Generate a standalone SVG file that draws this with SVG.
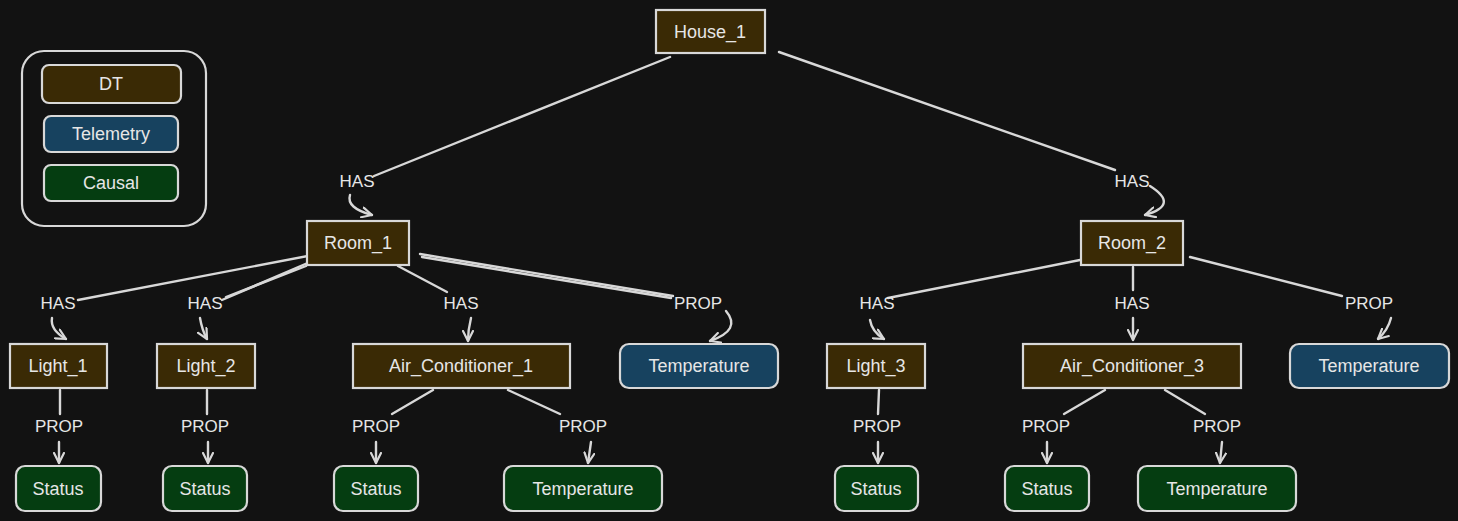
<svg xmlns="http://www.w3.org/2000/svg" width="1458" height="521" viewBox="0 0 1458 521">
<defs>
<marker id="ah" viewBox="0 0 12 12" refX="11" refY="6" markerWidth="12" markerHeight="12" markerUnits="userSpaceOnUse" orient="auto">
<path d="M1,1 L11,6 L1,11" fill="none" stroke="#d8d8d8" stroke-width="2.2" stroke-linecap="round" stroke-linejoin="round"/>
</marker>
<style>
.bg{fill:#121212}
.n{stroke:#d8d8d8;stroke-width:2.2}
.dt{fill:#3a2a05}
.tel{fill:#17425f}
.cau{fill:#053d11}
.t{font-family:"Liberation Sans",Arial,sans-serif;font-size:18px;fill:#e6e6e6;text-anchor:middle;dominant-baseline:central}
.lbl{font-family:"Liberation Sans",Arial,sans-serif;font-size:17px;fill:#e6e6e6;text-anchor:middle;dominant-baseline:central}
.e{fill:none;stroke:#d8d8d8;stroke-width:2.4;stroke-linecap:round}
.a{fill:none;stroke:#d8d8d8;stroke-width:2.4;stroke-linecap:round;marker-end:url(#ah)}
</style>
</defs>
<rect class="bg" x="0" y="0" width="1458" height="521"/>

<g id="legend">
<rect x="22" y="51" width="184" height="175" rx="22" fill="none" class="n"/>
<rect x="42" y="65" width="139" height="38" rx="7" class="n dt"/>
<text class="t" x="111" y="84">DT</text>
<rect x="44" y="116" width="134" height="36" rx="7" class="n tel"/>
<text class="t" x="111" y="134">Telemetry</text>
<rect x="44" y="165" width="134" height="36" rx="7" class="n cau"/>
<text class="t" x="111" y="183">Causal</text>
</g>

<g id="connectors">
<path class="e" d="M670,57 L374,176"/>
<text class="lbl" x="357" y="181">HAS</text>
<path class="a" d="M350,195 Q346,208 372,215"/>
<path class="e" d="M779,52 L1115,170"/>
<text class="lbl" x="1132" y="181">HAS</text>
<path class="a" d="M1150,186 Q1180,205 1145,215"/>
<path class="e" d="M318,254 L78,300"/>
<text class="lbl" x="58" y="303">HAS</text>
<path class="a" d="M52,318 Q50,330 66,339"/>
<path class="e" d="M310,262 L222,300"/>
<path class="e" d="M306,266 L226,297" stroke-width="1.2"/>
<text class="lbl" x="205" y="303">HAS</text>
<path class="a" d="M200,318 Q202,330 207,339"/>
<path class="e" d="M398,266 L447,292"/>
<text class="lbl" x="461" y="303">HAS</text>
<path class="a" d="M471,318 Q468,330 468,341"/>
<path class="e" d="M420,254 L673,296"/>
<path class="e" d="M422,257 L671,298" stroke-width="1.2"/>
<text class="lbl" x="698" y="303">PROP</text>
<path class="a" d="M726,311 Q742,330 710,341"/>
<path class="e" d="M1090,258 L888,298"/>
<text class="lbl" x="877" y="303">HAS</text>
<path class="a" d="M870,320 Q872,332 884,339"/>
<path class="e" d="M1133,267 L1133,290"/>
<text class="lbl" x="1132" y="303">HAS</text>
<path class="a" d="M1133,318 L1133,340"/>
<path class="e" d="M1190,257 L1342,296"/>
<text class="lbl" x="1369" y="303">PROP</text>
<path class="a" d="M1391,318 Q1388,330 1378,339"/>
<path class="e" d="M60,390 L60,414"/>
<text class="lbl" x="59" y="426">PROP</text>
<path class="a" d="M59,442 L59,463"/>
<path class="e" d="M207,390 L207,414"/>
<text class="lbl" x="205" y="426">PROP</text>
<path class="a" d="M208,442 L208,463"/>
<path class="e" d="M433,390 L392,414"/>
<text class="lbl" x="376" y="426">PROP</text>
<path class="a" d="M376,442 L376,463"/>
<path class="e" d="M508,390 L560,414"/>
<text class="lbl" x="583" y="426">PROP</text>
<path class="a" d="M591,442 L588,463"/>
<path class="e" d="M879,390 L878,414"/>
<text class="lbl" x="877" y="426">PROP</text>
<path class="a" d="M878,442 L878,463"/>
<path class="e" d="M1105,390 L1064,414"/>
<text class="lbl" x="1046" y="426">PROP</text>
<path class="a" d="M1047,442 L1047,463"/>
<path class="e" d="M1165,390 L1205,414"/>
<text class="lbl" x="1217" y="426">PROP</text>
<path class="a" d="M1222,442 L1220,463"/>
</g>

<g id="house1"><rect x="656" y="10" width="109" height="43" class="n dt"/><text class="t" x="710" y="32">House_1</text></g>
<g id="room1"><rect x="307" y="221" width="102" height="44" class="n dt"/><text class="t" x="358" y="243">Room_1</text></g>
<g id="room2"><rect x="1081" y="221" width="102" height="44" class="n dt"/><text class="t" x="1132" y="243">Room_2</text></g>
<g id="light1"><rect x="10" y="344" width="97" height="44" class="n dt"/><text class="t" x="58" y="366">Light_1</text></g>
<g id="light2"><rect x="157" y="344" width="98" height="44" class="n dt"/><text class="t" x="206" y="366">Light_2</text></g>
<g id="ac1"><rect x="353" y="344" width="217" height="44" class="n dt"/><text class="t" x="461" y="366">Air_Conditioner_1</text></g>
<g id="temp1"><rect x="620" y="344" width="158" height="44" rx="9" class="n tel"/><text class="t" x="699" y="366">Temperature</text></g>
<g id="light3"><rect x="827" y="344" width="98" height="44" class="n dt"/><text class="t" x="876" y="366">Light_3</text></g>
<g id="ac3"><rect x="1023" y="344" width="218" height="44" class="n dt"/><text class="t" x="1132" y="366">Air_Conditioner_3</text></g>
<g id="temp2"><rect x="1290" y="344" width="159" height="44" rx="9" class="n tel"/><text class="t" x="1369" y="366">Temperature</text></g>
<g id="status1"><rect x="16" y="466" width="85" height="45" rx="9" class="n cau"/><text class="t" x="58" y="489">Status</text></g>
<g id="status2"><rect x="163" y="466" width="84" height="45" rx="9" class="n cau"/><text class="t" x="205" y="489">Status</text></g>
<g id="status3"><rect x="334" y="466" width="84" height="45" rx="9" class="n cau"/><text class="t" x="376" y="489">Status</text></g>
<g id="temp3"><rect x="504" y="466" width="158" height="45" rx="9" class="n cau"/><text class="t" x="583" y="489">Temperature</text></g>
<g id="status4"><rect x="835" y="466" width="83" height="45" rx="9" class="n cau"/><text class="t" x="876" y="489">Status</text></g>
<g id="status5"><rect x="1005" y="466" width="84" height="45" rx="9" class="n cau"/><text class="t" x="1047" y="489">Status</text></g>
<g id="temp4"><rect x="1138" y="466" width="158" height="45" rx="9" class="n cau"/><text class="t" x="1217" y="489">Temperature</text></g>
</svg>
